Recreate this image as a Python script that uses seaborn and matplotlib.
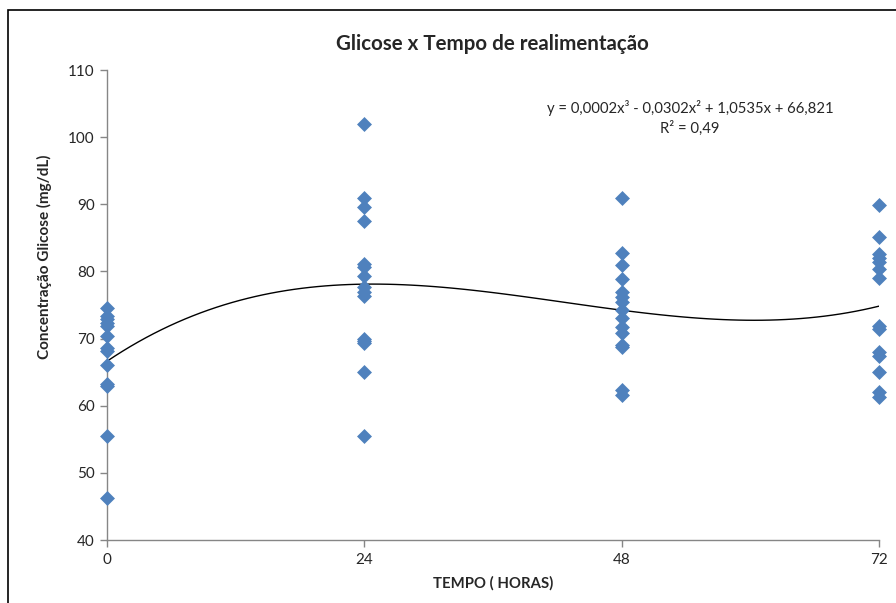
import numpy as np
import pandas as pd
import matplotlib
matplotlib.use("Agg")
import matplotlib.pyplot as plt
import seaborn as sns
from matplotlib.patches import Rectangle

# ---- data ----
hours_0 = [74.6, 73.3, 72.9, 72.3, 71.9, 70.4, 68.6, 68.1, 66.1, 63.3, 62.9, 55.5, 46.2]
hours_24 = [101.9, 91.0, 89.6, 87.5, 81.1, 80.6, 79.3, 77.7, 77.0, 76.3, 70.0, 69.7, 69.4, 65.0, 55.5]
hours_48 = [91.0, 82.7, 80.9, 78.9, 77.0, 76.2, 75.4, 74.2, 73.0, 71.7, 70.8, 69.0, 68.7, 62.3, 61.6]
hours_72 = [89.9, 85.2, 82.6, 82.0, 81.4, 80.3, 79.0, 71.9, 71.5, 68.0, 67.4, 65.0, 62.1, 61.3]
times = [0, 24, 48, 72]
x_ticks = [0, 24, 48, 72]
y_ticks = [40, 50, 60, 70, 80, 90, 100, 110]
title = "Glicose x Tempo de realimentação"
x_label = "TEMPO ( HORAS)"
y_label = "Concentração Glicose (mg/dL)"
eq_text = "y = 0,0002x³ - 0,0302x² + 1,0535x + 66,821\nR² = 0,49"

groups = [hours_0, hours_24, hours_48, hours_72]
df = pd.DataFrame({
    "tempo": np.concatenate([[t] * len(g) for t, g in zip(times, groups)]),
    "glicose": np.concatenate(groups),
})

sns.set_theme(style="white")
plt.rcParams["font.family"] = ["Lato", "DejaVu Sans"]

fig = plt.figure(figsize=(8.96, 6.03), dpi=100)
ax = fig.add_axes([107 / 896, 1 - 540 / 603, (879 - 107) / 896, (540 - 70) / 603])

sns.regplot(data=df, x="tempo", y="glicose", order=3, ci=None, scatter=False,
            line_kws=dict(color="black", lw=1.0), ax=ax)
sns.scatterplot(data=df, x="tempo", y="glicose", marker="D", s=58,
                color="#4F81BD", edgecolor="#4F81BD", linewidth=0, ax=ax,
                zorder=3, clip_on=False)

ax.set_xlim(0, 72)
ax.set_ylim(40, 110)
ax.set_xticks(x_ticks)
ax.set_yticks(y_ticks)
ax.tick_params(axis="both", labelsize=11, length=5, width=1, color="#868686",
               direction="out", bottom=True, left=True, pad=4)
for side in ["top", "right"]:
    ax.spines[side].set_visible(False)
for side in ["left", "bottom"]:
    ax.spines[side].set_color("#868686")
    ax.spines[side].set_linewidth(1)

ax.set_xlabel("")
ax.set_ylabel("")
fig.text(493 / 896, 1 - 583 / 603, x_label, ha="center", va="center",
         fontsize=10.7, fontweight="bold")
fig.text(44 / 896, 1 - 257 / 603, y_label, ha="center", va="center",
         rotation=90, fontsize=11, fontweight="bold")
fig.text(492 / 896, 1 - 44 / 603, title, ha="center", va="center",
         fontsize=14.8, fontweight="bold")
fig.text(690 / 896, 1 - 118 / 603, eq_text, ha="center", va="center",
         multialignment="center", fontsize=10.7, linespacing=1.4)

fig.patches.append(Rectangle((8 / 896, -0.05), 1.0, 1 - 10 / 603 + 0.05,
                             transform=fig.transFigure, fill=False,
                             edgecolor="black", lw=1.2))

fig.savefig("out.png", dpi=100)
